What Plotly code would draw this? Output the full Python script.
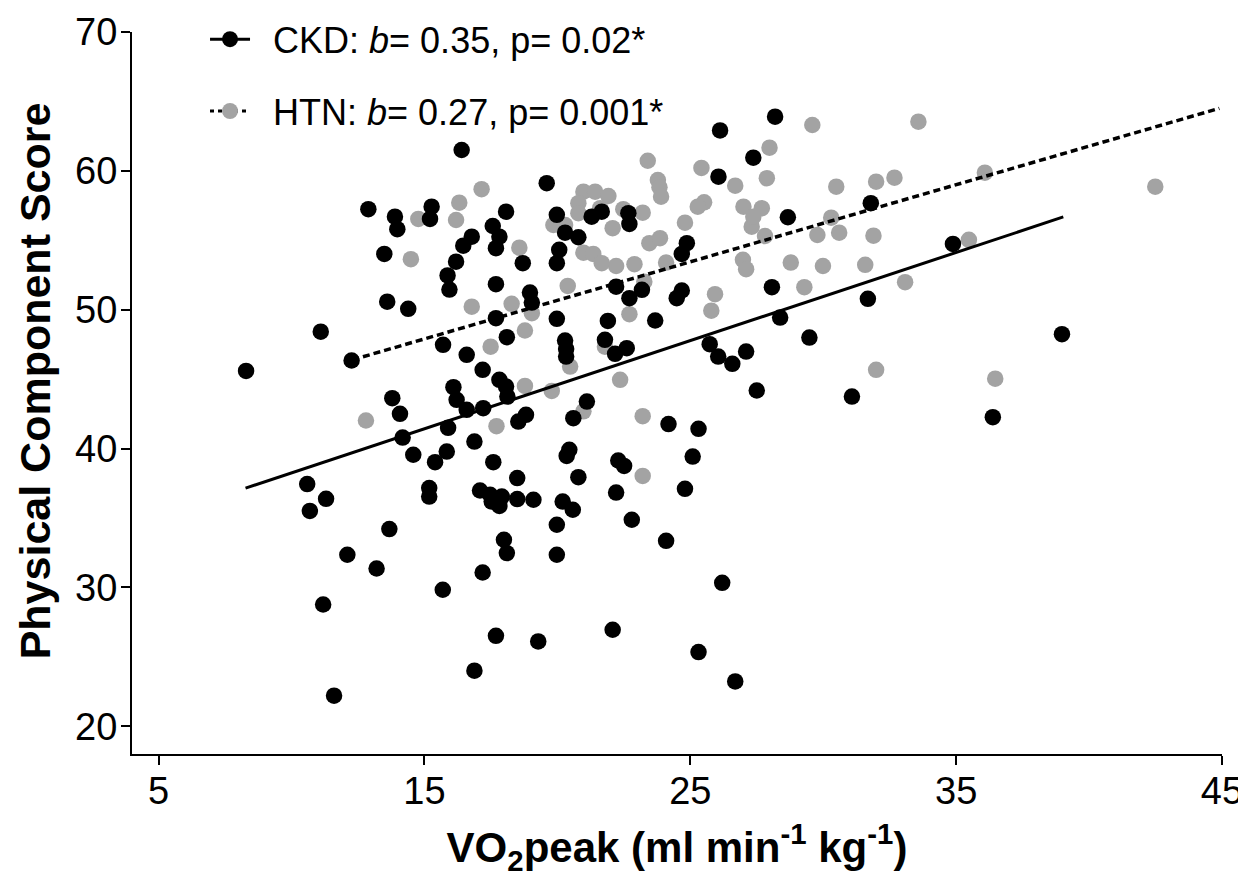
import plotly.graph_objects as go

# ---- data ----
ckd_x = [12.89, 13.89, 13.98, 15.27, 15.21, 13.49, 15.87, 15.94, 13.60, 14.39,
         11.10, 12.26, 15.70, 8.29, 13.79, 14.08, 16.09, 14.18, 15.89, 14.58,
         15.40, 15.84, 10.59, 11.30, 10.69, 15.18, 15.18, 13.68, 12.10, 13.20,
         15.69, 11.19, 11.60, 16.40, 19.60, 18.07, 17.57, 17.82, 17.69, 16.78,
         16.46, 16.19, 18.70, 17.69, 19.98, 20.29, 20.79, 20.07, 19.98, 21.29,
         21.67, 22.67, 22.71, 26.12, 26.06, 24.87, 24.68, 22.21, 22.71, 23.18,
         24.68, 24.49, 18.97, 19.04, 17.69, 19.98, 21.90, 23.68, 16.59, 18.10,
         20.29, 20.33, 20.33, 21.79, 22.17, 22.61, 25.73, 26.05, 17.19, 16.21,
         16.59, 17.21, 17.82, 18.07, 18.12, 21.11, 20.60, 18.53, 18.82, 24.18,
         25.31, 16.88, 17.59, 18.49, 17.09, 17.47, 17.91, 17.53, 17.82, 18.49,
         19.10, 20.45, 20.35, 20.79, 20.20, 20.58, 19.98, 19.98, 22.29, 22.51,
         22.21, 25.09, 24.80, 22.80, 24.09, 17.99, 18.10, 17.19, 17.69, 19.28,
         22.08, 25.31, 16.88, 26.20, 28.19, 27.37, 28.67, 31.79, 34.88, 28.07,
         31.68, 28.38, 26.58, 27.10, 29.48, 27.50, 31.08, 36.38, 26.69, 38.98]
ckd_y = [57.24, 56.70, 55.80, 57.42, 56.54, 54.02, 52.47, 51.45, 50.58, 50.06,
         48.42, 46.34, 47.47, 45.59, 43.63, 42.50, 44.42, 40.79, 41.49, 39.55,
         39.02, 39.78, 37.44, 36.38, 35.51, 37.15, 36.54, 34.20, 32.35, 31.36,
         29.83, 28.77, 22.20, 61.50, 59.11, 57.06, 56.03, 55.26, 54.43, 55.26,
         54.61, 53.46, 53.35, 51.84, 56.83, 55.55, 55.22, 54.31, 53.35, 56.70,
         57.06, 56.95, 56.18, 62.91, 59.58, 54.79, 54.02, 51.66, 50.83, 51.43,
         51.38, 50.83, 51.23, 50.51, 49.39, 49.34, 49.19, 49.22, 46.75, 48.02,
         47.78, 47.16, 46.62, 47.83, 46.82, 47.23, 47.52, 46.62, 45.67, 43.51,
         42.79, 42.91, 44.95, 44.46, 43.74, 43.38, 42.19, 41.94, 42.43, 41.76,
         41.42, 40.50, 39.02, 37.87, 36.98, 36.67, 36.54, 36.18, 35.87, 36.36,
         36.31, 39.91, 39.47, 37.94, 36.18, 35.59, 34.51, 32.35, 39.14, 38.75,
         36.83, 39.42, 37.10, 34.87, 33.35, 33.43, 32.47, 31.07, 26.51, 26.11,
         26.95, 25.34, 24.00, 30.33, 63.90, 60.95, 56.66, 57.67, 54.74, 51.62,
         50.78, 49.43, 46.10, 46.98, 47.99, 44.18, 43.74, 42.26, 23.23, 48.24]

htn_x = [14.77, 16.19, 14.49, 12.80, 17.15, 16.31, 18.57, 19.85, 20.29, 20.98,
         21.42, 21.92, 20.79, 21.61, 20.79, 22.08, 22.48, 23.21, 23.40, 23.78,
         23.84, 23.90, 25.42, 25.52, 25.28, 24.80, 23.46, 23.86, 24.09, 20.98,
         21.35, 21.67, 22.21, 22.90, 20.39, 23.27, 25.93, 25.79, 16.78, 18.28,
         19.04, 22.71, 17.49, 18.78, 20.48, 21.79, 22.36, 18.78, 19.79, 20.98,
         17.71, 23.21, 29.59, 33.58, 27.98, 26.69, 27.88, 30.49, 31.99, 32.68,
         36.08, 27.00, 27.69, 27.31, 27.37, 27.81, 30.30, 29.78, 30.60, 31.89,
         35.48, 26.98, 27.10, 28.78, 29.99, 31.58, 33.08, 29.29, 31.99, 36.47,
         42.49, 23.21]
htn_y = [56.54, 56.46, 53.64, 42.02, 58.68, 57.71, 54.47, 56.10, 56.10, 58.50,
         58.50, 58.19, 57.67, 57.31, 56.95, 55.87, 57.24, 56.99, 60.73, 59.34,
         58.82, 58.14, 60.21, 57.73, 57.42, 56.27, 54.79, 55.15, 53.39, 54.11,
         54.02, 53.35, 53.15, 53.28, 51.71, 52.02, 51.12, 49.93, 50.22, 50.42,
         49.75, 49.68, 47.34, 48.50, 45.90, 47.34, 44.95, 44.51, 44.15, 42.68,
         41.61, 42.33, 63.30, 63.54, 61.67, 58.93, 59.47, 58.86, 59.22, 59.51,
         59.87, 57.42, 57.31, 55.98, 56.70, 55.31, 56.63, 55.38, 55.55, 55.33,
         55.03, 53.59, 52.92, 53.39, 53.15, 53.23, 51.98, 51.62, 45.67, 45.03,
         58.86, 38.03]

# regression line end points
ckd_fit_x = [8.27, 39.03]
ckd_fit_y = [37.15, 56.68]
htn_fit_x = [12.29, 44.9]
htn_fit_y = [46.39, 64.5]

x_ticks = [5, 15, 25, 35, 45]
y_ticks = [20, 30, 40, 50, 60, 70]

ckd_label = "\u2002CKD: <i>b</i>= 0.35, p= 0.02*"
htn_label = "\u2002HTN: <i>b</i>= 0.27, p= 0.001*"
x_title = "<b>VO<sub>2</sub>peak (ml min<sup>-1</sup> kg<sup>-1</sup>)</b>"
y_title = "<b>Physical Component Score</b>"

BLACK = "#000000"
GRAY = "#a3a3a3"
FONT = "Liberation Sans, Arial, sans-serif"

fig = go.Figure()

fig.add_trace(go.Scatter(x=htn_x, y=htn_y, mode="markers", showlegend=False,
                         marker=dict(color=GRAY, size=16.5, line=dict(width=0))))
fig.add_trace(go.Scatter(x=ckd_x, y=ckd_y, mode="markers", showlegend=False,
                         marker=dict(color=BLACK, size=16.5, line=dict(width=0))))
fig.add_trace(go.Scatter(x=ckd_fit_x, y=ckd_fit_y, mode="lines", showlegend=False,
                         line=dict(color=BLACK, width=3)))
fig.add_trace(go.Scatter(x=htn_fit_x, y=htn_fit_y, mode="lines", showlegend=False,
                         line=dict(color=BLACK, width=3.5, dash="7px,4px")))

# legend entries
fig.add_trace(go.Scatter(x=[None], y=[None], mode="lines+markers", name=ckd_label,
                         legendgroup="a",
                         marker=dict(color=BLACK, size=16), line=dict(color=BLACK, width=3)))
fig.add_trace(go.Scatter(x=[None], y=[None], mode="lines+markers", name=htn_label,
                         legendgroup="b",
                         marker=dict(color=GRAY, size=16),
                         line=dict(color=BLACK, width=3, dash="4px,4px")))

axis_common = dict(
    showline=True, linecolor=BLACK, linewidth=2, ticks="outside", ticklen=9,
    tickwidth=2, tickcolor=BLACK, showgrid=False, zeroline=False, automargin=False,
    tickfont=dict(family=FONT, size=38, color=BLACK), mirror=False,
)

fig.update_xaxes(range=[4, 45], tickvals=x_ticks, ticktext=[str(v) for v in x_ticks],
                 ticklabelstandoff=-7,
                 title=dict(text=x_title,
                            font=dict(family=FONT, size=42, color=BLACK), standoff=22),
                 **axis_common)
fig.update_yaxes(range=[18, 70], tickvals=y_ticks, ticktext=[str(v) for v in y_ticks],
                 ticklabelstandoff=-4,
                 **axis_common)

# y-axis title placed as an annotation (centered where the reference has it)
fig.add_annotation(text=y_title, textangle=-90, xref="paper", yref="y",
                   x=0, y=44.84, xanchor="center", yanchor="middle",
                   xshift=-97, showarrow=False,
                   font=dict(family=FONT, size=43, color=BLACK))

# page body has an 8px margin: shrink figure and margins to compensate
fig.update_layout(
    width=1238, height=869,
    margin=dict(l=124, r=24, t=24, b=123, autoexpand=False),
    paper_bgcolor="white", plot_bgcolor="white",
    font=dict(family=FONT, color=BLACK),
    legend=dict(x=0.067, y=0.9985, xanchor="left", yanchor="top", yref="container",
                font=dict(family=FONT, size=36, color=BLACK),
                bgcolor="rgba(0,0,0,0)", tracegroupgap=22, itemwidth=40),
)

fig.write_html("out.html")
